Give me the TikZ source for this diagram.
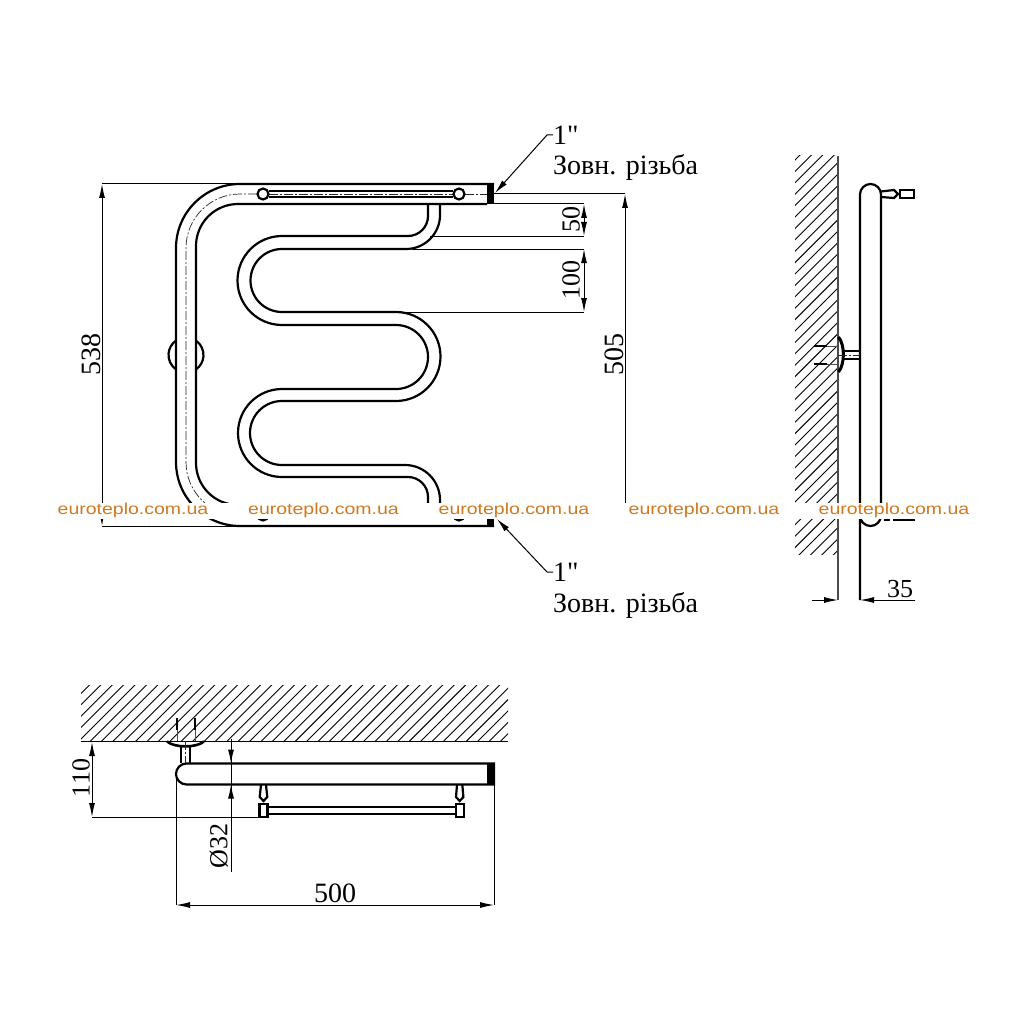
\documentclass[tikz,border=0pt]{standalone}
\usepackage{fontspec}
\usepackage{graphicx}
\setmainfont{Liberation Serif}
\newfontfamily\plainserif{Liberation Serif}
\newfontfamily\wmfont{Liberation Sans}
\usetikzlibrary{arrows.meta}
\definecolor{wmorange}{HTML}{D2791F}
\tikzset{
 tube/.style={line width=2.2pt,black},
 thinl/.style={line width=1pt,black},
 hatchl/.style={line width=0.9pt,black},
 greyl/.style={line width=1.6pt,black!70},
 ctr/.style={line width=0.7pt,black!85,dash pattern=on 9pt off 2pt on 2pt off 2pt},
 dimtip/.style={-{Latex[length=14pt,width=6pt]}},
 dimboth/.style={thinl,{Latex[length=14pt,width=6pt]}-{Latex[length=14pt,width=6pt]}},
 lbl/.style={inner sep=0pt,font=\fontsize{26}{26}\selectfont},
 lblb/.style={inner sep=0pt,font=\fontsize{28}{28}\selectfont},
 wm/.style={inner sep=0pt,text=wmorange},
}
\newcommand{\wmtext}{\scalebox{1.233}[1]{\wmfont\fontsize{15.8}{16}\selectfont euroteplo.com.ua}}
\begin{document}
\begin{tikzpicture}[x=1pt,y=-1pt]
\useasboundingbox (0,0) rectangle (1024,1024);
\fill[white] (0,0) rectangle (1024,1024);
% ---- front view
\draw[thinl] (102,184) -- (240,184);
\draw[thinl] (102,526) -- (240,526);
\draw[dimboth] (102,184) -- (102,526);
\node[lblb,rotate=90] (t538) at (91,354) {538};
\draw[thinl] (494,194) -- (625,194);
\draw[thinl,{Latex[length=14pt,width=6pt]}-] (625,194) -- (625,515);
\node[lblb,rotate=90] (t505) at (614,354) {505};
\draw[thinl] (494,204) -- (584,204);
\draw[thinl] (430,236) -- (584,236);
\draw[thinl] (412,249) -- (584,249);
\draw[thinl] (397,312) -- (584,312);
\draw[dimboth] (584,204) -- (584,236);
\draw[dimboth] (584,249) -- (584,312);
\node[lbl,rotate=90] (t50) at (571,220) {50};
\node[lbl,rotate=90] (t100) at (571,280) {100};
% bracket behind the tube
\draw[tube] (186,355) ++(125:17.5) arc[start angle=125,end angle=235,radius=17.5];
\draw[tube] (186,355) ++(-55:17.5) arc[start angle=-55,end angle=55,radius=17.5];
% big tube
\draw[tube] (494,184) -- (240,184) arc[start angle=270,end angle=180,radius=64] -- (176,462) arc[start angle=180,end angle=90,radius=64] -- (494,526);
\draw[tube] (487,204) -- (238,204) arc[start angle=270,end angle=180,radius=42] -- (196,463) arc[start angle=180,end angle=90,radius=42] -- (487,505);
\draw[ctr] (257,194) -- (240,194) arc[start angle=270,end angle=180,radius=54] -- (186,462) arc[start angle=180,end angle=90,radius=54] -- (257,516);
% serpentine
\draw[tube] (440,204) -- (440,215) arc[start angle=0,end angle=90,radius=34] -- (282,249)
  arc[start angle=270,end angle=90,radius=31.5] -- (396,312)
  arc[start angle=270,end angle=450,radius=44.5] -- (282,401)
  arc[start angle=270,end angle=90,radius=32] -- (405,465)
  arc[start angle=270,end angle=360,radius=35] -- (440,510);
\draw[tube] (428,204) -- (428,216) arc[start angle=0,end angle=90,radius=20] -- (282,236)
  arc[start angle=270,end angle=90,radius=44.5] -- (396,325)
  arc[start angle=270,end angle=450,radius=32] -- (282,389)
  arc[start angle=270,end angle=90,radius=44] -- (408,477)
  arc[start angle=270,end angle=360,radius=20] -- (428,510);
% towel rail
\draw[tube] (269,191) -- (453,191);
\draw[tube] (269,197) -- (453,197);
\draw[ctr] (269,194) -- (453,194);
\draw[ctr] (465,194) -- (487,194);
\draw[tube] (263,194) circle[radius=5.5];
\draw[tube] (459,194) circle[radius=5.5];
\draw[tube] (263,515) circle[radius=5.5];
\draw[tube] (459,515) circle[radius=5.5];
\fill (487,184) rectangle (494,204);
\fill (487,505) rectangle (494,526);
% leaders
\coordinate (lt) at (553,135);
\coordinate (lb) at (553,572);
\draw[thinl,{Latex[length=14pt,width=6pt]}-] (495,193) -- (547,135) -- (lt);
\draw[thinl,{Latex[length=14pt,width=6pt]}-] (497,519) -- (547,572) -- (lb);
\node[lblb,anchor=west] (one1) at (553,135) {\plainserif 1"};
\node[lblb,anchor=west] (ext1) at (553,167) {Зовн. різьба};
\node[lblb,anchor=west] (one2) at (553,572) {\plainserif 1"};
\node[lblb,anchor=west] (ext2) at (553,605) {Зовн. різьба};
% ---- side view
\begin{scope}
\clip (795,156) rectangle (838,554);
\foreach \k in {0,...,38}{
  \draw[hatchl] (790,{165+\k*11.4}) -- (850,{105+\k*11.4});
}
\end{scope}
\draw[greyl] (838,156) -- (838,600);
\draw[tube] (860,600) -- (860,194.5) arc[start angle=180,end angle=360,radius=10.5] -- (881,515.5) arc[start angle=0,end angle=180,radius=10.5];
\draw[tube] (881,191.5) -- (894,190) -- (898,194) -- (894,198) -- (881,197);
\draw[tube] (900,190) rectangle (914,198);
\draw[tube] (884,520) -- (890,520);
\draw[tube] (893,520) -- (915,520);
% side bracket
\draw[tube,line width=3pt] (838.5,337) .. controls (845,345) and (845,364) .. (838.5,372);
\draw[tube] (843,351) -- (860,351);
\draw[tube] (843,359) -- (860,359);
\draw[ctr] (838,355) -- (860,355);
\draw[tube] (814,346) -- (827,346);
\draw[tube] (814,364) -- (827,364);
\draw[greyl,line width=1pt] (827,346) -- (838,346);
\draw[greyl,line width=1pt] (827,364) -- (838,364);
% dim 35
\coordinate (d35a) at (838,600);
\coordinate (d35b) at (860,600);
\draw[thinl,dimtip] (812,600) -- (d35a);
\draw[thinl,dimtip] (915,600) -- (d35b);
\node[lbl] (t35) at (900,589) {35};
% ---- top view
\begin{scope}
\clip (81,685.5) rectangle (508,741.5);
\foreach \k in {-6,...,45}{
  \draw[hatchl] ({70+\k*11.4},750) -- ({140+\k*11.4},680);
}
\end{scope}
\draw[thinl,line width=1.2pt] (81,741.5) -- (508,741.5);
\draw[tube] (494,763.5) -- (186.5,763.5) arc[start angle=270,end angle=90,radius=10.5] -- (494,784.5) -- cycle;
\fill (487,763.5) rectangle (494,784.5);
% top bracket
\draw[tube,line width=2.6pt] (167,741.5) .. controls (175,748) and (196,748) .. (204,741.5);
\draw[tube] (181,746) -- (181,763);
\draw[tube] (190,746) -- (190,763);
\draw[ctr] (185.5,741) -- (185.5,763);
\draw[tube] (177,718) -- (177,730);
\draw[tube] (195,718) -- (195,730);
\draw[greyl,line width=1pt] (177,730) -- (177,741);
\draw[greyl,line width=1pt] (195,730) -- (195,741);
% top valves and rail
\draw[tube] (261,785) -- (259.7,797) -- (263.5,801) -- (267.3,797) -- (266,785);
\draw[tube] (457,785) -- (456,797) -- (459.7,801) -- (463.4,797) -- (462.3,785);
\draw[tube] (259.5,804) rectangle (267.5,817);
\draw[tube] (456,804) rectangle (464,817);
\draw[tube] (267.5,807) -- (456,807);
\draw[tube] (267.5,814) -- (456,814);
% dims top view
\draw[thinl] (176,773) -- (176,905);
\draw[thinl] (494,784) -- (494,905);
\draw[dimboth] (176,905) -- (494,905);
\node[lblb] (t500) at (335,893) {500};
\draw[dimboth] (92,742) -- (92,817);
\draw[thinl] (92,817) -- (259,817);
\node[lbl,rotate=90] (t110) at (81,778) {110};
\draw[thinl] (231,739) -- (231,872);
\draw[thinl,dimtip] (231,745) -- (231,763.5);
\draw[thinl,dimtip] (231,800) -- (231,784.5);
\node[lbl,rotate=90] (t32) at (219,846) {Ø32};
% ---- watermark band
\fill[white] (47,503) rectangle (980,519);
\node[wm] (w1) at (133,510.5) {\wmtext};
\node[wm] (w2) at (323.5,510.5) {\wmtext};
\node[wm] (w3) at (514,510.5) {\wmtext};
\node[wm] (w4) at (704,510.5) {\wmtext};
\node[wm] (w5) at (894,510.5) {\wmtext};
\end{tikzpicture}
\end{document}
